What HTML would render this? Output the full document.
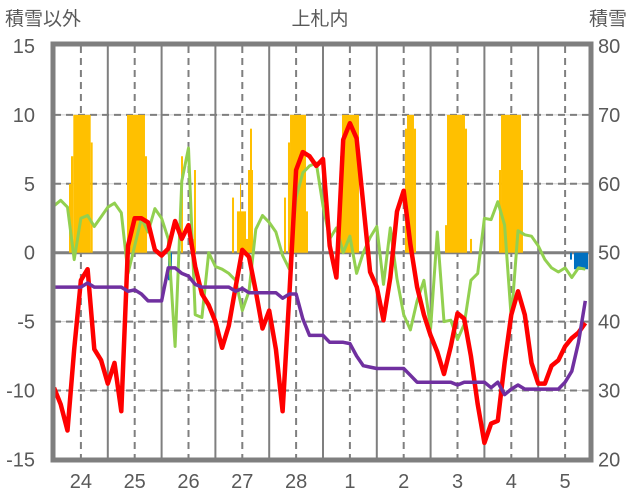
<!DOCTYPE html>
<html><head><meta charset="utf-8">
<style>
html,body{margin:0;padding:0;background:#fff;}
svg{display:block;font-family:"Liberation Sans","Noto Sans CJK JP",sans-serif;}
</style></head>
<body>
<svg id="chart" width="636" height="501" viewBox="0 0 636 501" xmlns="http://www.w3.org/2000/svg">
  <text x="320" y="25" font-size="19" fill="#595959" text-anchor="middle">上札内</text>
  <text x="5" y="25" font-size="19" fill="#595959">積雪以外</text>
  <text x="589" y="25" font-size="19" fill="#595959">積雪</text>
  <g id="grid"></g>
  <g id="bars"></g>
  <g id="lines"></g>
  <g id="axes"></g>
</svg>
<script>
const dayLabels = ["24","25","26","27","28","1","2","3","4","5"];
const leftTicks = [15,10,5,0,-5,-10,-15];
const rightTicks = [80,70,60,50,40,30,20];
const stepsPerDay = 8;
const redValues = [-9.8,-11,-12.9,-7,-2,-1.2,-7,-7.8,-9.5,-8,-11.5,0.5,2.5,2.5,2.2,0.2,-0.2,0.3,2.3,1,2,-1,-3,-3.8,-5,-6.9,-5.3,-2.5,0.2,-0.3,-2.8,-5.5,-4.2,-7,-11.5,-3,6,7.3,7,6.3,6.8,0.5,-1.8,8.2,9.4,8.3,3.5,-1.4,-2.5,-4.9,-1.8,3,4.5,0.6,-2.5,-4.5,-6,-7.2,-8.8,-6.8,-4.4,-4.8,-7.5,-11,-13.8,-12.4,-12.2,-8,-4.5,-2.8,-4.5,-8,-9.5,-9.5,-8.2,-7.8,-6.8,-6.2,-5.8,-5.1];
const greenValues = [3.4,3.8,3.3,-0.5,2.5,2.7,1.9,2.6,3.3,3.6,2.9,-1.5,0.5,2.5,1.5,3.2,2.5,1,-6.8,5.2,7.6,-4.5,-4.7,0,-1,-1.2,-1.5,-2,-4.2,-2.8,1.7,2.7,2.2,1.5,-0.2,-1.2,4,5.8,6.3,6.5,3.4,1,1.8,0,1.2,-1.5,0,1.1,1.9,-2.3,1.8,-1.9,-4.5,-5.6,-3.5,-2,-5.5,1.5,-5,-4.9,-6.3,-5.2,-2,-1.5,2.5,2.4,3.7,2,-4.8,1.6,1.3,1.2,0.5,-0.5,-1.1,-1.4,-1.1,-1.8,-1.1,-1.2];
const purpleValues = [-2.5,-2.5,-2.5,-2.5,-2.5,-2.2,-2.5,-2.5,-2.5,-2.5,-2.5,-2.8,-2.7,-3.0,-3.5,-3.5,-3.5,-1.1,-1.1,-1.5,-1.7,-2.3,-2.5,-2.5,-2.5,-2.5,-2.5,-2.8,-2.6,-2.9,-2.9,-2.9,-2.9,-2.9,-3.3,-3.0,-3.0,-4.8,-6.0,-6.0,-6.0,-6.5,-6.5,-6.5,-6.6,-7.5,-8.2,-8.3,-8.4,-8.4,-8.4,-8.4,-8.4,-8.9,-9.4,-9.4,-9.4,-9.4,-9.4,-9.4,-9.6,-9.4,-9.4,-9.4,-9.4,-9.8,-9.4,-10.3,-9.9,-9.6,-9.9,-9.9,-9.9,-9.9,-9.9,-9.9,-9.4,-8.6,-6.5,-3.5];
const orangeStart = [0.279,0.316,0.359,0.682,1.357,1.691,2.361,2.565,2.602,3.309,3.401,3.457,3.569,3.606,3.643,4.275,4.349,4.387,4.684,5.316,5.353,6.524,6.561,6.691,7.268,7.305,7.639,7.732,8.271,8.309,8.680];
const orangeEnd   = [0.316,0.359,0.682,0.719,1.691,1.729,2.398,2.621,2.639,3.346,3.569,3.476,3.606,3.699,3.680,4.312,4.387,4.684,4.721,5.353,5.669,6.561,6.691,6.729,7.305,7.639,7.677,7.770,8.309,8.680,8.717];
const orangeValues= [5,7,10,8,10,7,7,1,6,4,3,5,1,6,9,4,8,10,3,7,10,9,10,9,2,10,9,1,6,10,6];
const blueStart = [2.119,9.591,9.665];
const blueEnd = [2.193,9.628,9.926];
const blueValues = [-2,-0.5,-1.2];

const NS="http://www.w3.org/2000/svg";
const X0=54, DAY=53.8, Y0=252.7, UNIT=13.78;
function xs(t){return X0+t*DAY;}
function ys(v){return Y0-v*UNIT;}
function mk(tag,attrs,parent){const e=document.createElementNS(NS,tag);for(const k in attrs)e.setAttribute(k,attrs[k]);parent.appendChild(e);return e;}
const grid=document.getElementById('grid'),bars=document.getElementById('bars'),lines=document.getElementById('lines'),axes=document.getElementById('axes');
const xL=54,xR=590,yT=46,yB=460;

leftTicks.forEach(v=>{
  if(v===15||v===-15||v===0)return;
  const l1=mk('line',{x1:xL,x2:xR,y1:ys(v),y2:ys(v),stroke:'#d0d0d0','stroke-width':1},grid);
  
  
  const l=mk('line',{x1:xL,x2:xR,y1:ys(v),y2:ys(v),stroke:'#7f7f7f','stroke-width':2,'stroke-dasharray':'7,5'},grid);
  
  
});
dayLabels.forEach((d,i)=>{
  const c=xs(i+0.5);
  const l=mk('line',{x1:c,x2:c,y1:yT,y2:yB,stroke:'#7f7f7f','stroke-width':2,'stroke-dasharray':'7,5'},grid);
  
  
  if(i>0){
    const b=mk('line',{x1:xs(i),x2:xs(i),y1:yT,y2:yB,stroke:'#7f7f7f','stroke-width':2},grid);
    
    
  }
  const t=mk('text',{x:c,y:488,'font-size':20,fill:'#595959','text-anchor':'middle'},axes);
  t.textContent=d;
  
  
});
orangeValues.forEach((v,i)=>{
  const r=mk('rect',{x:xs(orangeStart[i]),width:xs(orangeEnd[i])-xs(orangeStart[i]),y:ys(v),height:ys(0)-ys(v),fill:'#FFC000'},bars);
  
  
});
blueValues.forEach((v,i)=>{
  const r=mk('rect',{x:xs(blueStart[i]),width:xs(blueEnd[i])-xs(blueStart[i]),y:ys(0),height:ys(v)-ys(0),fill:'#0070C0'},bars);
  
  
});
const zl=mk('line',{x1:xL,x2:xR,y1:ys(0),y2:ys(0),stroke:'#7f7f7f','stroke-width':3},grid);



function series(vals,color,w,name){
  const pts=vals.map((v,i)=>xs(i/stepsPerDay).toFixed(1)+','+ys(v).toFixed(1)).join(' ');
  const p=mk('polyline',{points:pts,fill:'none',stroke:color,'stroke-width':w,'stroke-linejoin':'round'},lines);
  
  
}
series(greenValues,'#92D050',3,'green-series');
series(redValues,'#FF0000',4.5,'red-series');
series(purpleValues,'#7030A0',3.5,'purple-series');

const fr=mk('rect',{x:xL-1,y:yT-2,width:xR-xL+2,height:yB-yT+2,fill:'none',stroke:'#7f7f7f','stroke-width':5},axes);


leftTicks.forEach(v=>{
  const t=mk('text',{x:35,y:ys(v)+7,'font-size':20,fill:'#595959','text-anchor':'end'},axes);
  t.textContent=v;
  
  
});
rightTicks.forEach((v,i)=>{
  const t=mk('text',{x:598,y:ys(leftTicks[i])+7,'font-size':20,fill:'#595959'},axes);
  t.textContent=v;
  
  
});
</script>
</body></html>
